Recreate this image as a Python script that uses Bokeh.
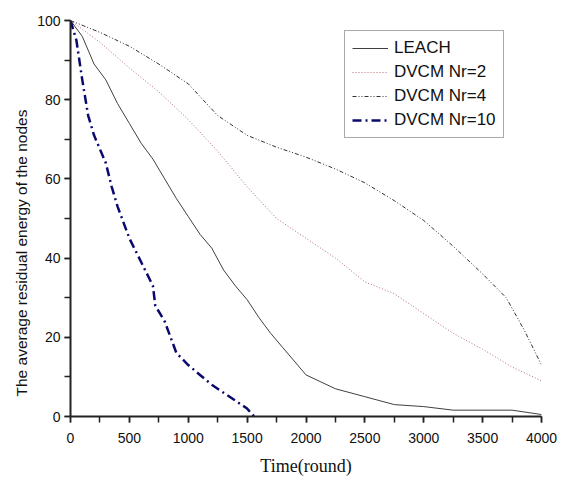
from bokeh.plotting import figure
from bokeh.models import Legend, LegendItem, Range1d, SingleIntervalTicker, Title
from bokeh.embed import file_html
from bokeh.resources import INLINE

# Data
leach_x = [0, 100, 200, 300, 400, 500, 600, 700, 800, 900, 1000, 1100, 1200, 1300, 1400,
           1500, 1600, 1700, 1800, 1900, 2000, 2250, 2500, 2750, 3000, 3250, 3750, 4000]
leach_y = [100, 96, 89, 85, 79, 74, 69, 65, 60, 55, 50.5, 46, 42.5, 37, 33,
           29.5, 25, 21, 17.5, 14, 10.5, 7, 5, 3, 2.5, 1.6, 1.6, 0.5]

nr2_x = [0, 250, 500, 750, 1000, 1250, 1500, 1750, 2000, 2250, 2500, 2750, 3000, 3250, 3500, 3750, 4000]
nr2_y = [100, 94.5, 88, 82, 75, 67, 58, 50, 45, 40, 34, 31, 26, 21, 17, 12.5, 9]

nr4_x = [0, 250, 500, 750, 1000, 1250, 1500, 1750, 2000, 2250, 2500, 2750, 3000, 3250, 3500, 3700, 3850, 4000]
nr4_y = [100, 97, 93.5, 89, 84, 76, 71, 68, 65.5, 62.5, 59, 54.5, 49.5, 43, 36, 30, 22, 13]

nr10_x = [0, 50, 100, 150, 200, 300, 350, 400, 500, 600, 700, 720, 800, 900, 1000, 1100, 1200, 1300, 1400, 1500, 1560]
nr10_y = [100, 95, 85, 76, 71, 64, 58, 53, 45, 39, 33, 28, 24, 16, 13, 10.5, 8, 6, 4, 2, 0]

series_names = ["LEACH", "DVCM Nr=2", "DVCM Nr=4", "DVCM Nr=10"]
x_title = "Time(round)"
y_title = "The average residual energy of the nodes"

p = figure(width=558, height=478, output_backend="svg", toolbar_location=None,
           x_range=Range1d(0, 4000), y_range=Range1d(0, 100),
           min_border_left=70, min_border_right=17, min_border_top=20, min_border_bottom=60)

p.outline_line_color = None
p.xgrid.visible = False
p.ygrid.visible = False

r1 = p.line(leach_x, leach_y, line_color="#404040", line_width=1)
r2 = p.line(nr2_x, nr2_y, line_color="#b07070", line_width=1, line_dash="1 2")
r3 = p.line(nr4_x, nr4_y, line_color="#333333", line_width=1, line_dash="4 2 1 2 1 2")
r4 = p.line(nr10_x, nr10_y, line_color="#0a0a6e", line_width=2.5, line_dash="9 4 2 4")

p.xaxis.ticker = SingleIntervalTicker(interval=500, num_minor_ticks=2)
p.yaxis.ticker = SingleIntervalTicker(interval=20, num_minor_ticks=2)

for ax in (p.xaxis[0], p.yaxis[0]):
    ax.axis_line_width = 2
    ax.axis_line_color = "#222222"
    ax.major_tick_line_color = "#222222"
    ax.minor_tick_line_color = "#222222"
    ax.major_tick_line_width = 1.5
    ax.minor_tick_line_width = 1.5
    ax.major_tick_in = 0
    ax.major_tick_out = 6
    ax.minor_tick_in = 0
    ax.minor_tick_out = 6
    ax.major_label_text_font = "Liberation Sans"
    ax.major_label_text_font_size = "14px"
    ax.major_label_text_color = "#111111"

p.xaxis.axis_label = x_title
p.xaxis.axis_label_text_font = "Liberation Serif"
p.xaxis.axis_label_text_font_style = "normal"
p.xaxis.axis_label_text_font_size = "18px"
p.xaxis.axis_label_text_color = "#111111"
p.xaxis.axis_label_standoff = 10
p.xaxis.major_label_standoff = 10

p.yaxis.major_label_standoff = 4

ytitle = Title(text=y_title, align="left", offset=20, standoff=10,
               text_font="Liberation Sans", text_font_size="15.5px",
               text_font_style="normal", text_color="#111111")
p.add_layout(ytitle, "left")

legend = Legend(items=[LegendItem(label=series_names[0], renderers=[r1]),
                       LegendItem(label=series_names[1], renderers=[r2]),
                       LegendItem(label=series_names[2], renderers=[r3]),
                       LegendItem(label=series_names[3], renderers=[r4])],
                location=(274, 278))
legend.border_line_color = "#555555"
legend.border_line_width = 1
legend.background_fill_color = "white"
legend.background_fill_alpha = 1
legend.label_text_font = "Liberation Sans"
legend.label_text_font_size = "17px"
legend.label_text_color = "#111111"
legend.glyph_width = 36
legend.glyph_height = 20
legend.label_height = 20
legend.spacing = 4
legend.padding = 7
legend.margin = 0
legend.label_standoff = 6
p.add_layout(legend, "center")

open("out.html", "w").write(file_html(p, INLINE))
